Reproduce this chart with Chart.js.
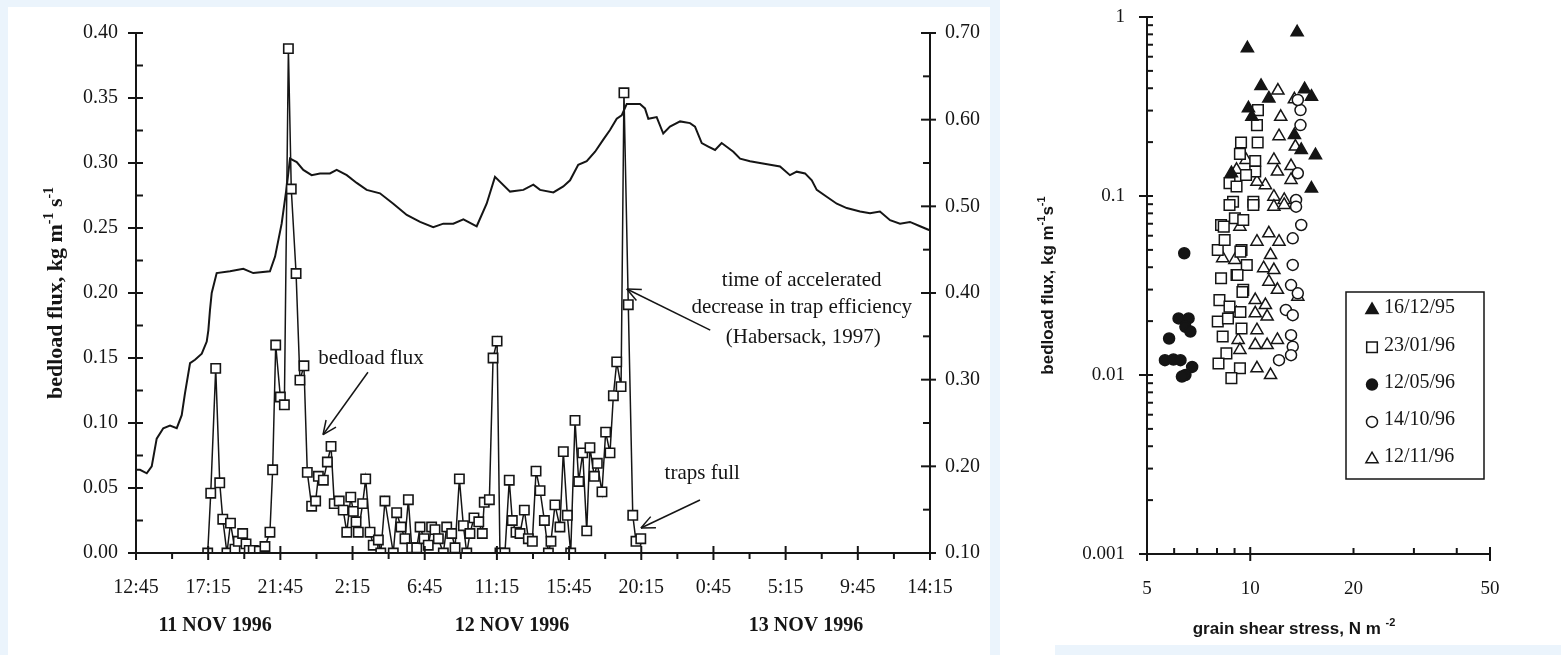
<!DOCTYPE html>
<html>
<head>
<meta charset="utf-8">
<script src="https://cdn.jsdelivr.net/npm/chart.js@4.4.1/dist/chart.umd.min.js"></script>
<style>
  html, body { margin: 0; padding: 0; }
  body { width: 1561px; height: 655px; background: #ebf4fc; position: relative; overflow: hidden; }
  .panel { position: absolute; background: #fff; }
  #leftPanel { left: 8px; top: 7px; width: 982px; height: 648px; }
  #rightPanel { left: 1000px; top: 0; width: 561px; height: 655px; }
  #rightStrip { position: absolute; left: 1055px; top: 645px; width: 506px; height: 10px; background: #ebf4fc; }
  canvas { position: absolute; top: 0; }
  #fluxChart { left: 0; }
  #shearChart { left: 1000px; }
</style>
</head>
<body>
<div class="panel" id="leftPanel"></div>
<div class="panel" id="rightPanel"></div>
<div id="rightStrip"></div>
<canvas id="fluxChart" width="990" height="655"></canvas>
<canvas id="shearChart" width="561" height="655"></canvas>
<script>
// ---- left chart: time axis in hours after 11 Nov 1996 12:45 ----
const timeTickHours = [0, 4.5, 9, 13.5, 18, 22.5, 27, 31.5, 36, 40.5, 45, 49.5];
const clockLabels = ['12:45', '17:15', '21:45', '2:15', '6:45', '11:15', '15:45', '20:15', '0:45', '5:15', '9:45', '14:15'];
const dayLabels = ['11 NOV 1996', '12 NOV 1996', '13 NOV 1996'];
const dayLabelHours = [4.93, 23.44, 41.77];
const fluxTicks = [0, 0.05, 0.10, 0.15, 0.20, 0.25, 0.30, 0.35, 0.40];
const effTicks = [0.10, 0.20, 0.30, 0.40, 0.50, 0.60, 0.70];

// bedload flux samples (kg m-1 s-1)
const fluxTime = [4.47, 4.66, 4.97, 5.22, 5.41, 5.67, 5.89, 6.17, 6.38, 6.65, 6.86, 7.06, 7.31, 7.69,
  8.04, 8.35, 8.52, 8.71, 9.00, 9.25, 9.50, 9.68, 9.98, 10.22, 10.47, 10.68, 10.95, 11.20, 11.37,
  11.68, 11.93, 12.16, 12.36, 12.67, 12.92, 13.14, 13.39, 13.55, 13.72, 13.86, 14.13, 14.32, 14.59,
  14.79, 15.11, 15.26, 15.52, 16.04, 16.25, 16.52, 16.77, 16.98, 17.19, 17.50, 17.71, 17.96, 18.22,
  18.43, 18.64, 18.85, 19.16, 19.37, 19.68, 19.89, 20.16, 20.41, 20.62, 20.82, 21.07, 21.37, 21.59,
  21.71, 22.03, 22.26, 22.51, 22.69, 23.00, 23.27, 23.46, 23.69, 23.94, 24.21, 24.46, 24.71, 24.94,
  25.19, 25.46, 25.71, 25.87, 26.12, 26.43, 26.64, 26.89, 27.10, 27.37, 27.60, 27.85, 28.10, 28.30,
  28.57, 28.76, 29.05, 29.28, 29.55, 29.76, 29.97, 30.24, 30.42, 30.69, 30.97, 31.17, 31.47];
const fluxValue = [0.000, 0.046, 0.142, 0.054, 0.026, 0.000, 0.023, 0.003, 0.009, 0.015, 0.007, 0.002, 0.002, 0.0015,
  0.005, 0.016, 0.064, 0.160, 0.120, 0.114, 0.388, 0.280, 0.215, 0.133, 0.144, 0.062, 0.036, 0.040, 0.059,
  0.056, 0.070, 0.082, 0.038, 0.040, 0.033, 0.016, 0.043, 0.032, 0.024, 0.016, 0.038, 0.057, 0.016,
  0.006, 0.010, 0.000, 0.040, 0.000, 0.031, 0.020, 0.011, 0.041, 0.004, 0.004, 0.020, 0.011, 0.006,
  0.020, 0.018, 0.011, 0.000, 0.020, 0.015, 0.004, 0.057, 0.021, 0.000, 0.015, 0.027, 0.024, 0.015,
  0.039, 0.041, 0.150, 0.163, 0.000, 0.000, 0.056, 0.025, 0.016, 0.015, 0.033, 0.011, 0.009, 0.063,
  0.048, 0.025, 0.000, 0.009, 0.037, 0.020, 0.078, 0.029, 0.000, 0.102, 0.055, 0.077, 0.017, 0.081,
  0.059, 0.069, 0.047, 0.093, 0.077, 0.121, 0.147, 0.128, 0.354, 0.191, 0.029, 0.009, 0.011];

// trap efficiency curve (right axis)
const effTime = [0, 0.25, 0.67, 0.98, 1.29, 1.70, 2.12, 2.54, 2.85, 3.05, 3.37, 3.68, 4.10, 4.41, 4.51,
  4.61, 4.72, 5.03, 5.86, 6.69, 7.31, 8.35, 8.67, 9.08, 9.40, 9.60, 10.02, 10.43, 10.95, 11.47, 12.09,
  12.51, 13.14, 13.76, 14.38, 15.21, 16.04, 16.88, 17.71, 18.53, 19.16, 19.78, 20.41, 21.24, 21.86,
  22.38, 23.32, 24.15, 24.77, 25.19, 26.02, 26.64, 27.06, 27.57, 28.10, 28.62, 29.13, 29.55, 29.97,
  30.28, 30.59, 31.42, 31.73, 31.94, 32.46, 32.87, 33.29, 33.92, 34.54, 34.85, 35.27, 35.68, 36.10,
  36.51, 37.24, 37.66, 38.28, 38.90, 39.53, 40.15, 40.77, 41.19, 41.71, 42.13, 42.44, 43.06, 43.69,
  44.31, 45.14, 45.76, 46.38, 47.01, 47.63, 48.25, 48.88, 49.40, 49.50];
const effValue = [0.196, 0.196, 0.192, 0.200, 0.232, 0.244, 0.247, 0.244, 0.259, 0.284, 0.319, 0.323, 0.330, 0.344, 0.357,
  0.380, 0.400, 0.423, 0.425, 0.428, 0.423, 0.425, 0.442, 0.480, 0.523, 0.555, 0.551, 0.542, 0.536, 0.538, 0.538,
  0.542, 0.536, 0.527, 0.519, 0.515, 0.503, 0.490, 0.482, 0.476, 0.480, 0.480, 0.485, 0.477, 0.503,
  0.534, 0.517, 0.519, 0.525, 0.519, 0.516, 0.523, 0.530, 0.548, 0.552, 0.563, 0.577, 0.588, 0.601,
  0.605, 0.618, 0.618, 0.613, 0.601, 0.603, 0.584, 0.592, 0.598, 0.596, 0.592, 0.573, 0.569, 0.565,
  0.573, 0.563, 0.555, 0.552, 0.550, 0.548, 0.546, 0.536, 0.540, 0.538, 0.530, 0.519, 0.511, 0.503,
  0.498, 0.494, 0.492, 0.494, 0.484, 0.480, 0.482, 0.477, 0.473, 0.472];

// ---- right chart: bedload flux vs grain shear stress ----
const shearTicks = [5, 10, 20, 50];
const shearTickLabels = ['5', '10', '20', '50'];
const shearFluxTicks = [0.001, 0.01, 0.1, 1];
const shearFluxTickLabels = ['0.001', '0.01', '0.1', '1'];
const eventLabels = ['16/12/95', '23/01/96', '12/05/96', '14/10/96', '12/11/96'];

const ev161295 = [[9.81, 0.668], [13.70, 0.821], [10.75, 0.412], [11.33, 0.351], [14.40, 0.395], [15.08, 0.359],
  [9.88, 0.309], [10.11, 0.277], [13.45, 0.219], [14.08, 0.181], [15.49, 0.169], [15.08, 0.110], [8.81, 0.134]];
const ev230196 = [[10.53, 0.302], [10.46, 0.249], [9.40, 0.199], [10.51, 0.199], [9.33, 0.172], [10.34, 0.157],
  [10.34, 0.137], [8.70, 0.118], [9.72, 0.131], [9.12, 0.113], [8.91, 0.0929], [10.21, 0.0929],
  [8.70, 0.0891], [10.21, 0.0891], [8.22, 0.0689], [9.02, 0.0751], [9.54, 0.0734], [8.04, 0.0499],
  [8.42, 0.0568], [9.43, 0.0499], [9.77, 0.0412], [8.22, 0.0347], [9.12, 0.0362], [9.54, 0.0299],
  [8.13, 0.0262], [8.70, 0.0241], [8.04, 0.0199], [8.61, 0.0207], [9.43, 0.0182], [8.31, 0.0164],
  [8.52, 0.0132], [8.08, 0.0116], [9.33, 0.0109], [8.81, 0.0096], [8.37, 0.0674], [9.36, 0.0489],
  [9.18, 0.0362], [9.49, 0.0291], [9.36, 0.0225]];
const ev120596 = [[6.42, 0.0479], [6.18, 0.0207], [6.61, 0.0207], [6.47, 0.0186], [6.69, 0.0175], [5.80, 0.0160],
  [5.64, 0.0121], [5.97, 0.0122], [6.26, 0.0121], [6.77, 0.0111], [6.47, 0.0100], [6.32, 0.0098]];
const ev141096 = [[14.01, 0.302], [14.01, 0.249], [13.76, 0.134], [13.60, 0.0950], [13.76, 0.344],
  [13.60, 0.0872], [14.08, 0.0689], [13.30, 0.0580], [13.30, 0.0412], [13.15, 0.0318], [13.76, 0.0286],
  [12.70, 0.0231], [13.30, 0.0216], [13.15, 0.0167], [13.30, 0.0144], [13.15, 0.0129], [12.13, 0.0121]];
const ev121196 = [[12.04, 0.388], [12.27, 0.277], [12.13, 0.216], [13.54, 0.189], [11.72, 0.159], [12.00, 0.137],
  [13.15, 0.147], [13.15, 0.123], [13.45, 0.347], [9.72, 0.159], [9.12, 0.140], [11.07, 0.115],
  [11.72, 0.0991], [12.56, 0.0950], [10.46, 0.120], [11.72, 0.0872], [12.56, 0.0891], [9.33, 0.0674],
  [10.46, 0.0556], [11.33, 0.0619], [12.13, 0.0556], [11.46, 0.0468], [8.31, 0.0449], [9.02, 0.0439],
  [10.94, 0.0395], [11.72, 0.0386], [11.33, 0.0332], [12.00, 0.0299], [13.76, 0.0274], [10.34, 0.0262],
  [11.07, 0.0246], [9.12, 0.0221], [10.34, 0.0221], [11.20, 0.0212], [10.46, 0.0178], [9.22, 0.0157],
  [10.34, 0.0147], [11.20, 0.0147], [12.00, 0.0157], [9.33, 0.0138], [10.46, 0.0109], [11.46, 0.0100]];

const INK = '#151515';
const SERIF = '"Liberation Serif", "Times New Roman", serif';
const SANS = '"Liberation Sans", Arial, sans-serif';

function line(ctx, x1, y1, x2, y2) {
  ctx.beginPath();
  ctx.moveTo(x1, y1);
  ctx.lineTo(x2, y2);
  ctx.stroke();
}

function arrow(ctx, x1, y1, x2, y2) {
  line(ctx, x1, y1, x2, y2);
  const ang = Math.atan2(y2 - y1, x2 - x1);
  const len = 15;
  [-0.42, 0.42].forEach(d => {
    line(ctx, x2, y2, x2 - len * Math.cos(ang + d), y2 - len * Math.sin(ang + d));
  });
}

// text with superscript parts, centred on (cx, cy)
function drawRich(ctx, parts, cx, cy, size, family, rotate) {
  const main = 'bold ' + size + 'px ' + family;
  const sup = 'bold ' + Math.round(size * 0.62) + 'px ' + family;
  ctx.save();
  ctx.translate(cx, cy);
  if (rotate) ctx.rotate(-Math.PI / 2);
  ctx.fillStyle = INK;
  ctx.textBaseline = 'alphabetic';
  ctx.textAlign = 'left';
  let w = 0;
  parts.forEach(p => { ctx.font = p.sup ? sup : main; w += ctx.measureText(p.t).width; });
  let x = -w / 2;
  const base = size * 0.33;
  parts.forEach(p => {
    ctx.font = p.sup ? sup : main;
    ctx.fillText(p.t, x, p.sup ? base - size * 0.42 : base);
    x += ctx.measureText(p.t).width;
  });
  ctx.restore();
}

// keep the label padding from pushing the plot area inwards
function fixWidth(w) {
  return s => { s.width = w; s.paddingTop = 0; s.paddingBottom = 0; };
}

const fluxFrame = {
  id: 'fluxFrame',
  afterDraw(chart) {
    const { ctx, chartArea: a } = chart;
    const { x, y, y1 } = chart.scales;
    ctx.save();
    ctx.strokeStyle = INK;
    ctx.lineWidth = 2;
    line(ctx, a.left, a.top, a.left, a.bottom + 1);
    line(ctx, a.left, a.bottom, a.right, a.bottom);
    line(ctx, a.right, a.top, a.right, a.bottom + 1);

    fluxTicks.forEach((v, i) => {
      const p = y.getPixelForValue(v);
      line(ctx, a.left - 8, p, a.left + 7, p);
      if (i > 0) {
        const m = y.getPixelForValue(v - 0.025);
        line(ctx, a.left, m, a.left + 7, m);
      }
    });
    effTicks.forEach((v, i) => {
      const p = y1.getPixelForValue(v);
      line(ctx, a.right - 9, p, a.right + 6, p);
      if (i > 0) {
        const m = y1.getPixelForValue(v - 0.05);
        line(ctx, a.right - 7, m, a.right, m);
      }
    });
    timeTickHours.forEach((h, i) => {
      const p = x.getPixelForValue(h);
      line(ctx, p, a.bottom - 7, p, a.bottom + 7);
      if (i > 0) {
        const m = x.getPixelForValue(h - 2.25);
        line(ctx, m, a.bottom, m, a.bottom + 6);
      }
    });

    // date labels under the clock times
    ctx.fillStyle = INK;
    ctx.font = 'bold 20px ' + SERIF;
    ctx.textAlign = 'center';
    ctx.textBaseline = 'middle';
    dayLabels.forEach((t, i) => ctx.fillText(t, x.getPixelForValue(dayLabelHours[i]), 626));

    // annotations
    ctx.font = '21px ' + SERIF;
    ctx.lineWidth = 1.5;
    const px = h => x.getPixelForValue(h);
    const py = v => y.getPixelForValue(v);
    ctx.fillText('bedload flux', px(14.65), py(0.150));
    arrow(ctx, px(14.46), py(0.139), px(11.66), py(0.091));
    ctx.fillText('time of accelerated', px(41.5), py(0.210));
    ctx.fillText('decrease in trap efficiency', px(41.5), py(0.1885));
    ctx.fillText('(Habersack, 1997)', px(41.6), py(0.166));
    arrow(ctx, px(35.8), py(0.1715), px(30.6), py(0.2031));
    ctx.fillText('traps full', px(35.3), py(0.0615));
    arrow(ctx, px(35.16), py(0.0408), px(31.48), py(0.0192));

    drawRich(ctx, [
      { t: 'bedload flux, kg m' }, { t: '-1', sup: true }, { t: ' s' }, { t: '-1', sup: true }
    ], 55, (a.top + a.bottom) / 2, 22, SERIF, true);
    ctx.restore();
  }
};

new Chart(document.getElementById('fluxChart'), {
  type: 'line',
  data: {
    datasets: [
      {
        label: 'bedload flux',
        data: fluxTime.map((t, i) => ({ x: t, y: fluxValue[i] })),
        yAxisID: 'y',
        borderColor: INK,
        borderWidth: 1.5,
        pointStyle: 'rect',
        pointRadius: 6.6,
        pointBackgroundColor: '#fff',
        pointBorderColor: INK,
        pointBorderWidth: 1.6,
        tension: 0,
        order: 1
      },
      {
        label: 'trap efficiency',
        data: effTime.map((t, i) => ({ x: t, y: effValue[i] })),
        yAxisID: 'y1',
        borderColor: INK,
        borderWidth: 2,
        pointRadius: 0,
        tension: 0,
        order: 2
      }
    ]
  },
  options: {
    responsive: false,
    animation: false,
    devicePixelRatio: 1,
    layout: { padding: { top: 33, left: 0, right: 0, bottom: 0 } },
    plugins: { legend: { display: false }, tooltip: { enabled: false } },
    scales: {
      x: {
        type: 'linear', min: 0, max: 49.5,
        afterBuildTicks: s => { s.ticks = timeTickHours.map(v => ({ value: v })); },
        afterFit: s => { s.height = 102; },
        grid: { display: false, drawTicks: false },
        border: { display: false },
        ticks: {
          callback: (v, i) => clockLabels[i],
          autoSkip: false, maxRotation: 0, padding: 23,
          color: INK, font: { family: SERIF, size: 20 }
        }
      },
      y: {
        position: 'left', min: 0, max: 0.4,
        afterBuildTicks: s => { s.ticks = fluxTicks.map(v => ({ value: v })); },
        afterFit: fixWidth(136),
        grid: { display: false, drawTicks: false },
        border: { display: false },
        ticks: { callback: v => v.toFixed(2), padding: 18, color: INK, font: { family: SERIF, size: 20 } }
      },
      y1: {
        position: 'right', min: 0.1, max: 0.7,
        afterBuildTicks: s => { s.ticks = effTicks.map(v => ({ value: v })); },
        afterFit: fixWidth(60),
        grid: { display: false, drawTicks: false },
        border: { display: false },
        ticks: { callback: v => v.toFixed(2), padding: 15, color: INK, font: { family: SERIF, size: 20 } }
      }
    }
  },
  plugins: [fluxFrame]
});

// ---- right chart ----
function marker(ctx, style, x, y, r, filled) {
  ctx.beginPath();
  if (style === 'triangle') {
    ctx.moveTo(x, y - r);
    ctx.lineTo(x + r * 0.87, y + r * 0.5);
    ctx.lineTo(x - r * 0.87, y + r * 0.5);
    ctx.closePath();
  } else if (style === 'rect') {
    const s = r * Math.SQRT1_2;
    ctx.rect(x - s, y - s, 2 * s, 2 * s);
  } else {
    ctx.arc(x, y, r, 0, Math.PI * 2);
  }
  ctx.fillStyle = filled ? INK : '#fff';
  ctx.fill();
  ctx.stroke();
}

const shearFrame = {
  id: 'shearFrame',
  afterDraw(chart) {
    const { ctx, chartArea: a } = chart;
    const { x, y } = chart.scales;
    ctx.save();
    ctx.strokeStyle = INK;
    ctx.lineWidth = 2;
    line(ctx, a.left, a.top, a.left, a.bottom + 1);
    line(ctx, a.left - 1, a.bottom, a.right, a.bottom);

    shearFluxTicks.forEach((v, i) => {
      const p = y.getPixelForValue(v);
      line(ctx, a.left - 8, p, a.left + 6, p);
      if (i < shearFluxTicks.length - 1) {
        for (let k = 2; k <= 9; k++) {
          const m = y.getPixelForValue(v * k);
          line(ctx, a.left, m, a.left + 6, m);
        }
      }
    });
    [5, 10, 50].forEach(v => {
      const p = x.getPixelForValue(v);
      line(ctx, p, a.bottom - 7, p, a.bottom + 7);
    });
    [6, 7, 8, 9, 20, 30, 40].forEach(v => {
      const p = x.getPixelForValue(v);
      line(ctx, p, a.bottom - 6, p, a.bottom);
    });

    // legend box
    ctx.lineWidth = 1.5;
    ctx.strokeRect(346, 292, 138, 187);
    ctx.font = '20px ' + SERIF;
    ctx.textAlign = 'left';
    ctx.textBaseline = 'middle';
    chart.data.datasets.forEach((ds, i) => {
      const ly = 308 + i * 37.3;
      ctx.lineWidth = 1.5;
      marker(ctx, ds.pointStyle, 372, ly + 2, ds.pointRadius, ds.pointBackgroundColor === INK);
      ctx.fillStyle = INK;
      ctx.fillText(eventLabels[i], 384, ly);
    });

    drawRich(ctx, [
      { t: 'bedload flux, kg m' }, { t: '-1', sup: true }, { t: 's' }, { t: '-1', sup: true }
    ], 47, (a.top + a.bottom) / 2, 17, SANS, true);
    drawRich(ctx, [
      { t: 'grain shear stress, N m ' }, { t: '-2', sup: true }
    ], 294, 628, 17, SANS, false);
    ctx.restore();
  }
};

function scatterSet(label, pts, style, filled, radius) {
  return {
    label: label,
    data: pts.map(p => ({ x: p[0], y: p[1] })),
    pointStyle: style,
    pointRadius: radius,
    pointBackgroundColor: filled ? INK : '#fff',
    pointBorderColor: INK,
    pointBorderWidth: 1.5,
    showLine: false
  };
}

new Chart(document.getElementById('shearChart'), {
  type: 'scatter',
  data: {
    datasets: [
      scatterSet(eventLabels[0], ev161295, 'triangle', true, 7),
      scatterSet(eventLabels[1], ev230196, 'rect', false, 7.5),
      scatterSet(eventLabels[2], ev120596, 'circle', true, 5.5),
      scatterSet(eventLabels[3], ev141096, 'circle', false, 5.5),
      scatterSet(eventLabels[4], ev121196, 'triangle', false, 7)
    ]
  },
  options: {
    responsive: false,
    animation: false,
    devicePixelRatio: 1,
    layout: { padding: { top: 17, right: 71, left: 0, bottom: 0 } },
    plugins: { legend: { display: false }, tooltip: { enabled: false } },
    scales: {
      x: {
        type: 'logarithmic', min: 5, max: 50,
        afterBuildTicks: s => { s.ticks = shearTicks.map(v => ({ value: v })); },
        afterFit: s => { s.height = 101; },
        grid: { display: false, drawTicks: false },
        border: { display: false },
        ticks: {
          callback: (v, i) => shearTickLabels[i],
          autoSkip: false, maxRotation: 0, padding: 24,
          color: INK, font: { family: SERIF, size: 19 }
        }
      },
      y: {
        type: 'logarithmic', min: 0.001, max: 1,
        afterBuildTicks: s => { s.ticks = shearFluxTicks.map(v => ({ value: v })); },
        afterFit: fixWidth(147),
        grid: { display: false, drawTicks: false },
        border: { display: false },
        ticks: {
          callback: (v, i) => shearFluxTickLabels[i],
          autoSkip: false, padding: 22,
          color: INK, font: { family: SERIF, size: 19 }
        }
      }
    }
  },
  plugins: [shearFrame]
});
</script>
</body>
</html>
